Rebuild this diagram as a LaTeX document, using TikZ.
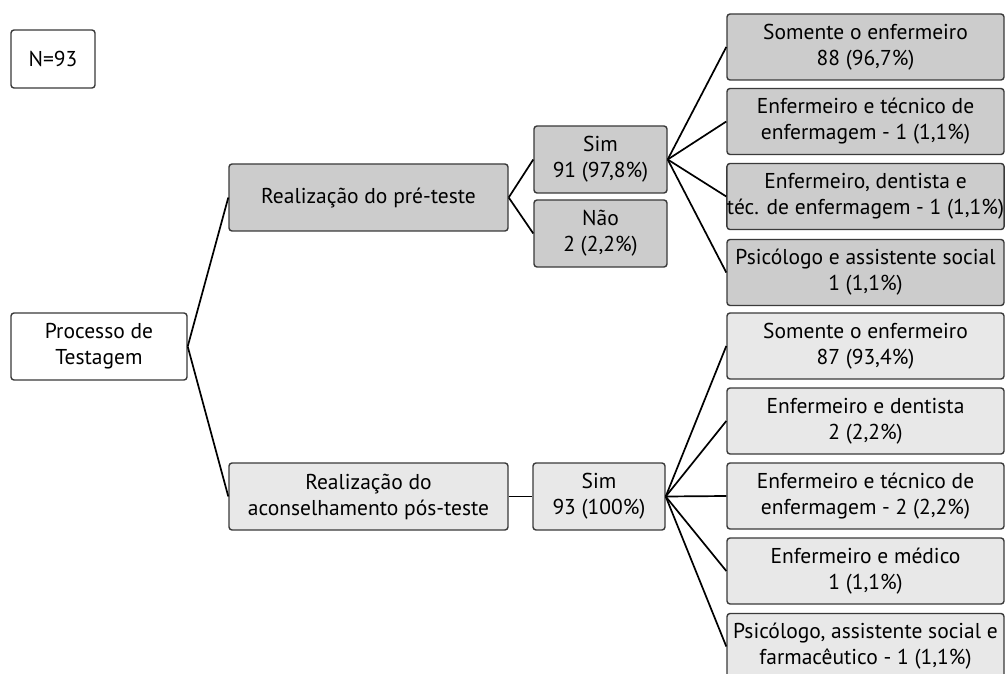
\documentclass[tikz,border=0pt]{standalone}
\usepackage{fontspec}
\setmainfont{PT Sans}
\definecolor{darkfill}{HTML}{CCCCCC}
\definecolor{lightfill}{HTML}{E8E8E8}
\definecolor{edge}{HTML}{3A3A3A}
\tikzset{
  box/.style={draw=edge, line width=1.4pt, rounded corners=3pt, align=center,
    inner sep=0pt, font=\fontsize{21.5}{26}\selectfont, text=black},
  leafbox/.style={box, minimum width=277pt, minimum height=66pt},
  conn/.style={draw=black, line width=1.7pt}
}
\begin{document}
\begin{tikzpicture}[x=1pt,y=-1pt]
\useasboundingbox (0,0) rectangle (1005,674);
\fill[white] (0,0) rectangle (1005,674);
\node[box, fill=white, minimum width=84pt, minimum height=58pt] (n) at (53,59) {N=93};
\node[box, fill=white, minimum width=176pt, minimum height=67pt] (proc) at (99,346.5) {Processo de\\Testagem};
\node[box, fill=darkfill, minimum width=279pt, minimum height=67pt] (pre) at (368.5,197.5) {Realização do pré-teste};
\node[box, fill=darkfill, minimum width=133pt, minimum height=67pt] (sim1) at (600.5,159.5) {Sim\\91 (97,8\%)};
\node[box, fill=darkfill, minimum width=133pt, minimum height=67pt] (nao) at (600.5,233.5) {Não\\2 (2,2\%)};
\node[box, fill=lightfill, minimum width=279pt, minimum height=67pt] (pos) at (368.5,496.5) {Realização do\\aconselhamento pós-teste};
\node[box, fill=lightfill, minimum width=132pt, minimum height=67pt] (sim2) at (599,496.5) {Sim\\93 (100\%)};
\node[leafbox, fill=darkfill] (a1) at (865.5,47) {Somente o enfermeiro\\88 (96,7\%)};
\node[leafbox, fill=darkfill] (a2) at (865.5,121.5) {Enfermeiro e técnico de\\enfermagem - 1 (1,1\%)};
\node[leafbox, fill=darkfill] (a3) at (865.5,196.5) {Enfermeiro, dentista e\\téc. de enfermagem - 1 (1,1\%)};
\node[leafbox, fill=darkfill] (a4) at (865.5,272.5) {Psicólogo e assistente social\\1 (1,1\%)};
\node[leafbox, fill=lightfill] (b1) at (865.5,346) {Somente o enfermeiro\\87 (93,4\%)};
\node[leafbox, fill=lightfill] (b2) at (865.5,421) {Enfermeiro e dentista\\2 (2,2\%)};
\node[leafbox, fill=lightfill] (b3) at (865.5,496) {Enfermeiro e técnico de\\enfermagem - 2 (2,2\%)};
\node[leafbox, fill=lightfill] (b4) at (865.5,571) {Enfermeiro e médico\\1 (1,1\%)};
\node[leafbox, fill=lightfill] (b5) at (865.5,646.5) {Psicólogo, assistente social e\\farmacêutico - 1 (1,1\%)};
\draw[conn] (proc.east) -- (pre.west);
\draw[conn] (proc.east) -- (pos.west);
\draw[conn] (pre.east) -- (sim1.west);
\draw[conn] (pre.east) -- (nao.west);
\draw[conn] (pos.east) -- (sim2.west);
\foreach \t in {a1,a2,a3,a4}{\draw[conn] (sim1.east) -- (\t.west);}
\foreach \t in {b1,b2,b3,b4,b5}{\draw[conn] (sim2.east) -- (\t.west);}
\end{tikzpicture}
\end{document}
